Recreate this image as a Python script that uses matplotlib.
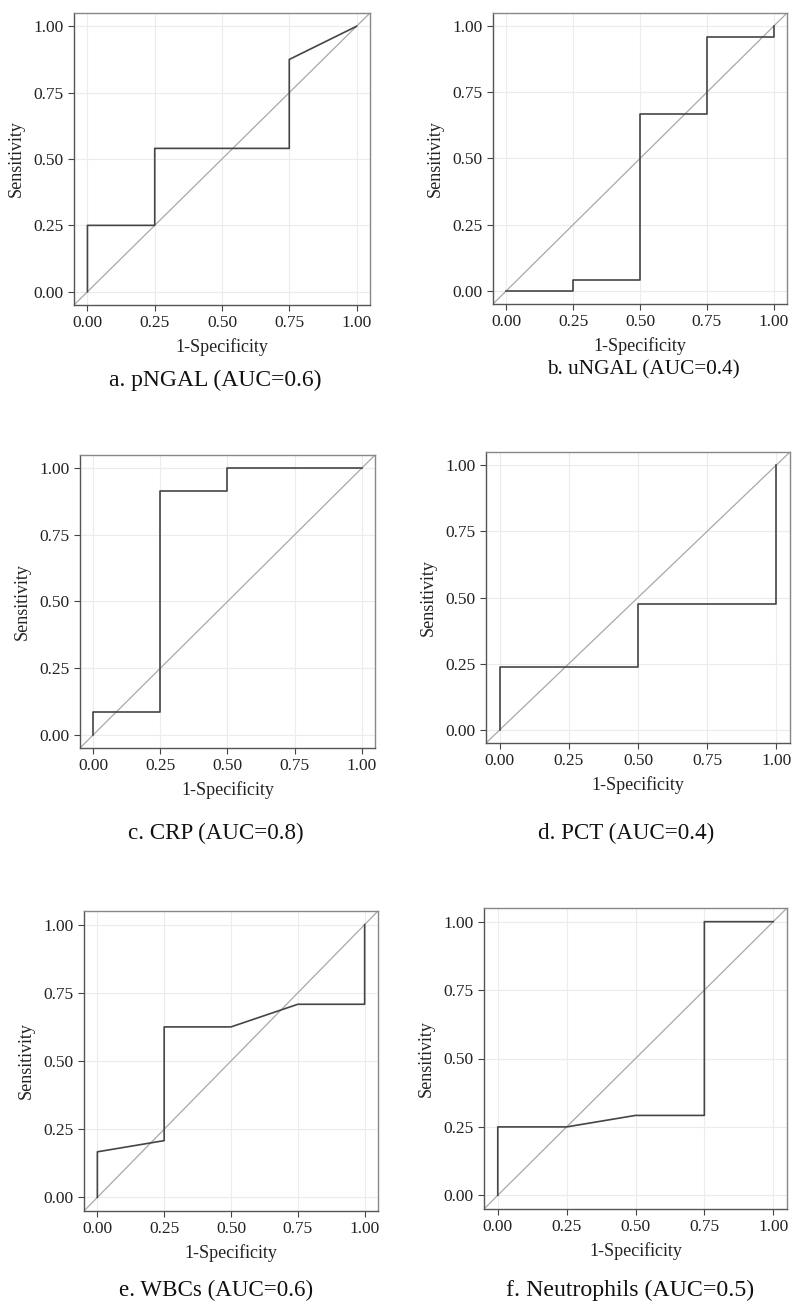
import matplotlib
matplotlib.use("Agg")
import matplotlib.pyplot as plt

plt.rcParams['font.family'] = ['Liberation Serif', 'DejaVu Serif']

# ROC curve points (1-specificity, sensitivity)
png_x = [0, 0, 0.25, 0.25, 0.75, 0.75, 1]
png_y = [0, 0.25, 0.25, 0.54, 0.54, 0.875, 1]
ung_x = [0, 0.25, 0.25, 0.5, 0.5, 0.75, 0.75, 1, 1]
ung_y = [0, 0, 0.04, 0.04, 0.667, 0.667, 0.958, 0.958, 1]
crp_x = [0, 0, 0.25, 0.25, 0.5, 0.5, 1]
crp_y = [0, 0.087, 0.087, 0.913, 0.913, 1, 1]
pct_x = [0, 0, 0.5, 0.5, 1, 1]
pct_y = [0, 0.238, 0.238, 0.476, 0.476, 1]
wbc_x = [0, 0, 0.25, 0.25, 0.5, 0.75, 1, 1]
wbc_y = [0, 0.167, 0.208, 0.625, 0.625, 0.708, 0.708, 1]
neu_x = [0, 0, 0.25, 0.5, 0.75, 0.75, 1]
neu_y = [0, 0.25, 0.25, 0.292, 0.292, 1, 1]

captions = ["a. pNGAL (AUC=0.6)", "b. uNGAL (AUC=0.4)", "c. CRP (AUC=0.8)",
            "d. PCT (AUC=0.4)", "e. WBCs (AUC=0.6)", "f. Neutrophils (AUC=0.5)"]
ticks = [0, 0.25, 0.5, 0.75, 1]
tick_labels = ["0.00", "0.25", "0.50", "0.75", "1.00"]

curves = [(png_x, png_y), (ung_x, ung_y), (crp_x, crp_y),
          (pct_x, pct_y), (wbc_x, wbc_y), (neu_x, neu_y)]

# axes boxes in pixels: left, top, right, bottom
boxes = [(74, 13, 370, 305), (493, 13, 787, 304),
         (80, 455, 375, 748), (486, 452, 790, 743),
         (84, 911, 378, 1211), (484, 908, 787, 1209)]
# caption centre (x, y) in pixels and size
cap_pos = [(215, 380), (643, 370), (216, 833), (626, 833), (216, 1290), (630, 1290)]
cap_size = [17, 15.3, 16.6, 16.6, 16.6, 17.2]

W, H = 799, 1314
fig = plt.figure(figsize=(W / 100, H / 100), dpi=100)

for i in range(6):
    l, t, r, b = boxes[i]
    ax = fig.add_axes([l / W, 1 - b / H, (r - l) / W, (b - t) / H])
    ax.set_xlim(-0.05, 1.05)
    ax.set_ylim(-0.05, 1.05)
    ax.plot([-0.05, 1.05], [-0.05, 1.05], color='#a8a8a8', lw=0.9)
    ax.plot(curves[i][0], curves[i][1], color='#454545', lw=1.2)
    ax.set_xticks(ticks)
    ax.set_xticklabels(tick_labels)
    ax.set_yticks(ticks)
    ax.set_yticklabels(tick_labels)
    ax.grid(color='#ececec', lw=0.8)
    ax.set_axisbelow(True)
    ax.tick_params(labelsize=12.5, length=4, width=0.8, color='#444444', labelcolor='#222222')
    for s in ax.spines.values():
        s.set_color('#555555')
        s.set_linewidth(1.0)
    ax.spines['top'].set_color('#888888')
    ax.spines['right'].set_color('#888888')
    ax.set_xlabel("1-Specificity", fontsize=13, color='#222222', labelpad=5)
    ax.set_ylabel("Sensitivity", fontsize=13, color='#222222', labelpad=6)
    cx, cy = cap_pos[i]
    fig.text(cx / W, 1 - cy / H, captions[i], fontsize=cap_size[i],
             ha='center', va='center', color='#111111')

fig.savefig("out.png", dpi=100)
